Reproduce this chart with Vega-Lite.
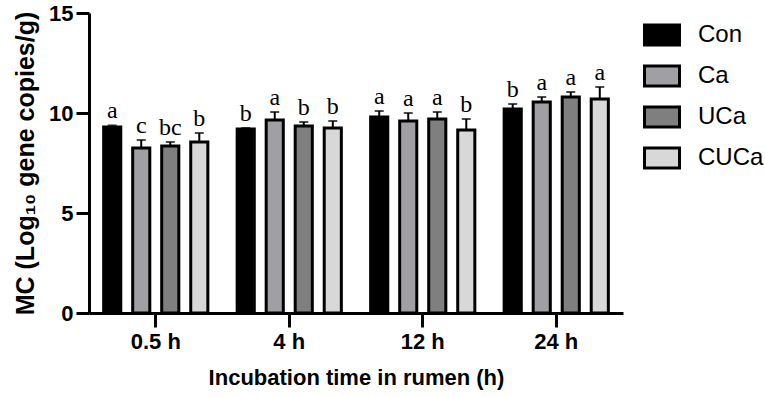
{
  "$schema": "https://vega.github.io/schema/vega-lite/v6.json",
  "width": 534,
  "height": 300,
  "autosize": {"type": "none"},
  "padding": {"left": 89, "top": 13, "right": 142, "bottom": 84},
  "background": "white",
  "config": {
    "view": {"stroke": null},
    "font": "Liberation Sans",
    "axis": {"grid": false, "domainColor": "black", "domainWidth": 3, "tickColor": "black", "tickWidth": 3, "labelColor": "black", "titleColor": "black", "labelFont": "Liberation Sans", "titleFont": "Liberation Sans"}
  },
  "data": {
    "values": [
      {"time": "0.5 h", "trt": "Con", "mean": 9.3, "hi": 9.38, "letter": "a"},
      {"time": "0.5 h", "trt": "Ca", "mean": 8.25, "hi": 8.65, "letter": "c"},
      {"time": "0.5 h", "trt": "UCa", "mean": 8.35, "hi": 8.55, "letter": "bc"},
      {"time": "0.5 h", "trt": "CUCa", "mean": 8.55, "hi": 9.0, "letter": "b"},
      {"time": "4 h", "trt": "Con", "mean": 9.2, "hi": 9.25, "letter": "b"},
      {"time": "4 h", "trt": "Ca", "mean": 9.65, "hi": 10.05, "letter": "a"},
      {"time": "4 h", "trt": "UCa", "mean": 9.35, "hi": 9.55, "letter": "b"},
      {"time": "4 h", "trt": "CUCa", "mean": 9.25, "hi": 9.6, "letter": "b"},
      {"time": "12 h", "trt": "Con", "mean": 9.8, "hi": 10.1, "letter": "a"},
      {"time": "12 h", "trt": "Ca", "mean": 9.6, "hi": 10.0, "letter": "a"},
      {"time": "12 h", "trt": "UCa", "mean": 9.7, "hi": 10.05, "letter": "a"},
      {"time": "12 h", "trt": "CUCa", "mean": 9.15, "hi": 9.7, "letter": "b"},
      {"time": "24 h", "trt": "Con", "mean": 10.2, "hi": 10.45, "letter": "b"},
      {"time": "24 h", "trt": "Ca", "mean": 10.55, "hi": 10.8, "letter": "a"},
      {"time": "24 h", "trt": "UCa", "mean": 10.8, "hi": 11.05, "letter": "a"},
      {"time": "24 h", "trt": "CUCa", "mean": 10.7, "hi": 11.3, "letter": "a"}
    ]
  },
  "encoding": {
    "x": {
      "field": "time", "type": "nominal", "sort": ["0.5 h", "4 h", "12 h", "24 h"],
      "scale": {"paddingInner": 0, "paddingOuter": 0},
      "axis": {"title": "Incubation time in rumen (h)", "titleFontSize": 22, "titleFontWeight": "bold", "titlePadding": 15, "labelFontSize": 22, "labelFontWeight": "bold", "labelAngle": 0, "tickSize": 14, "labelPadding": 4}
    },
    "xOffset": {"field": "trt", "type": "nominal", "sort": ["Con", "Ca", "UCa", "CUCa"], "scale": {"paddingInner": 0.41, "paddingOuter": 0.505}}
  },
  "layer": [
    {
      "mark": {"type": "rule", "color": "black", "strokeWidth": 2},
      "encoding": {
        "y": {"field": "mean", "type": "quantitative"},
        "y2": {"field": "hi"}
      }
    },
    {
      "mark": {"type": "tick", "color": "black", "size": 9, "thickness": 2, "orient": "horizontal"},
      "encoding": {
        "y": {"field": "hi", "type": "quantitative"}
      }
    },
    {
      "mark": {"type": "bar", "stroke": "black", "strokeWidth": 3},
      "encoding": {
        "y": {
          "field": "mean", "type": "quantitative",
          "scale": {"domain": [0, 15], "nice": false},
          "axis": {"title": "MC (Log₁₀ gene copies/g)", "titleFontSize": 25, "titleFontWeight": "bold", "titlePadding": 10, "values": [0, 5, 10, 15], "labelFontSize": 22, "labelFontWeight": "bold", "tickSize": 13, "labelPadding": 3}
        },
        "fill": {
          "field": "trt", "type": "nominal", "sort": ["Con", "Ca", "UCa", "CUCa"],
          "scale": {"domain": ["Con", "Ca", "UCa", "CUCa"], "range": ["#000000", "#a0a0a4", "#7f7f7f", "#d8d8d8"]},
          "legend": {"title": null, "orient": "none", "legendX": 561, "legendY": 10, "symbolType": "M-1.75,-1H1.75V1H-1.75Z", "symbolSize": 400, "symbolStrokeColor": "black", "symbolStrokeWidth": 3, "labelFontSize": 24, "labelColor": "black", "labelOffset": 24, "rowPadding": 9, "symbolOpacity": 1}
        }
      }
    },
    {
      "mark": {"type": "text", "font": "Liberation Serif", "fontSize": 24, "baseline": "bottom", "dy": -2, "color": "black"},
      "encoding": {
        "y": {"field": "hi", "type": "quantitative"},
        "text": {"field": "letter"}
      }
    }
  ]
}
